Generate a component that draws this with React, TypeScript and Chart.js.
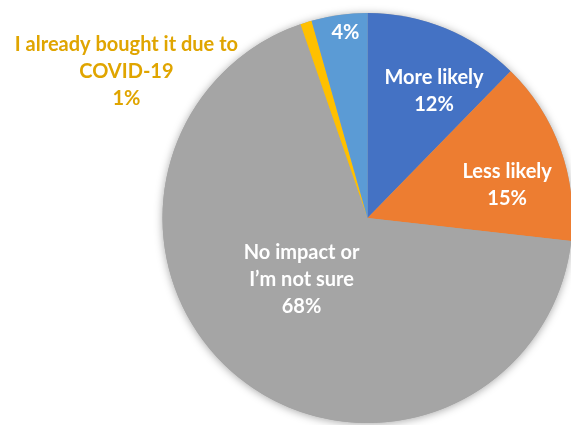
import React, { useEffect, useRef } from "react";
import { Chart, registerables } from "chart.js";

Chart.register(...registerables);

const categories = [
  "More likely",
  "Less likely",
  "No impact or I’m not sure",
  "I already bought it due to COVID-19",
  "Other",
];
const values = [12.3, 14.5, 67.9, 0.9, 4.4];
const percentLabels = ["12%", "15%", "68%", "1%", "4%"];
const labelLines = [
  ["More likely", "12%"],
  ["Less likely", "15%"],
  ["No impact or", "I’m not sure", "68%"],
  ["I already bought it due to", "COVID-19", "1%"],
  ["4%"],
];
const colors = ["#4472C4", "#ED7D31", "#A5A5A5", "#FFC000", "#5B9BD5"];
const labelColors = ["#FFFFFF", "#FFFFFF", "#FFFFFF", "#E0A500", "#FFFFFF"];
// label placement: angle (deg from 12 o'clock, clockwise) and distance as fraction of radius
const labelAngle = [27.6, 76.7, 227, 301.2, 353.2];
const labelDist = [0.7, 0.7, 0.44, 1.375, 0.91];

const FONT = "bold 20px Lato, 'Open Sans', sans-serif";
const LINE_H = 27;

const shadowPlugin = {
  id: "pieShadow",
  beforeDatasetsDraw(chart: any) {
    const meta = chart.getDatasetMeta(0);
    const arc = meta.data[0];
    if (!arc) return;
    const { x, y, outerRadius } = arc.getProps(["x", "y", "outerRadius"], true);
    const ctx = chart.ctx;
    ctx.save();
    ctx.shadowColor = "rgba(0,0,0,0.35)";
    ctx.shadowBlur = 9;
    ctx.shadowOffsetX = 0;
    ctx.shadowOffsetY = 1;
    ctx.beginPath();
    ctx.arc(x, y, outerRadius, 0, Math.PI * 2);
    ctx.fillStyle = "#A5A5A5";
    ctx.fill();
    ctx.restore();
  },
};

const labelPlugin = {
  id: "pieLabels",
  afterDatasetsDraw(chart: any) {
    const meta = chart.getDatasetMeta(0);
    const ctx = chart.ctx;
    ctx.save();
    ctx.font = FONT;
    ctx.textAlign = "center";
    ctx.textBaseline = "middle";
    meta.data.forEach((arc: any, i: number) => {
      const { x, y, outerRadius } = arc.getProps(["x", "y", "outerRadius"], true);
      const a = (labelAngle[i] * Math.PI) / 180;
      const d = labelDist[i] * outerRadius;
      const cx = x + Math.sin(a) * d;
      const cy = y - Math.cos(a) * d;
      const lines = labelLines[i];
      const startY = cy - ((lines.length - 1) * LINE_H) / 2;
      ctx.fillStyle = labelColors[i];
      lines.forEach((t, j) => ctx.fillText(t, cx, startY + j * LINE_H));
    });
    ctx.restore();
  },
};

export default function App() {
  const ref = useRef<HTMLCanvasElement>(null);
  useEffect(() => {
    if (!ref.current) return;
    const chart = new Chart(ref.current, {
      type: "pie",
      data: {
        labels: categories,
        datasets: [
          {
            data: values,
            backgroundColor: colors,
            borderWidth: 0,
            hoverOffset: 0,
            offset: 0,
            radius: 205,
            clip: false,
          } as any,
        ],
      },
      options: {
        animation: false,
        responsive: true,
        maintainAspectRatio: false,
        radius: 205,
        layout: { padding: { left: 164, right: 0, top: 13, bottom: 2 } },
        plugins: {
          legend: { display: false },
          tooltip: { enabled: false },
        },
        events: [],
      } as any,
      plugins: [shadowPlugin, labelPlugin],
    });
    return () => chart.destroy();
  }, []);
  return (
    <div
      style={{
        position: "fixed",
        left: 0,
        top: 0,
        width: 571,
        height: 425,
        overflow: "hidden",
        background: "#fff",
      }}
    >
      <canvas ref={ref} />
    </div>
  );
}
